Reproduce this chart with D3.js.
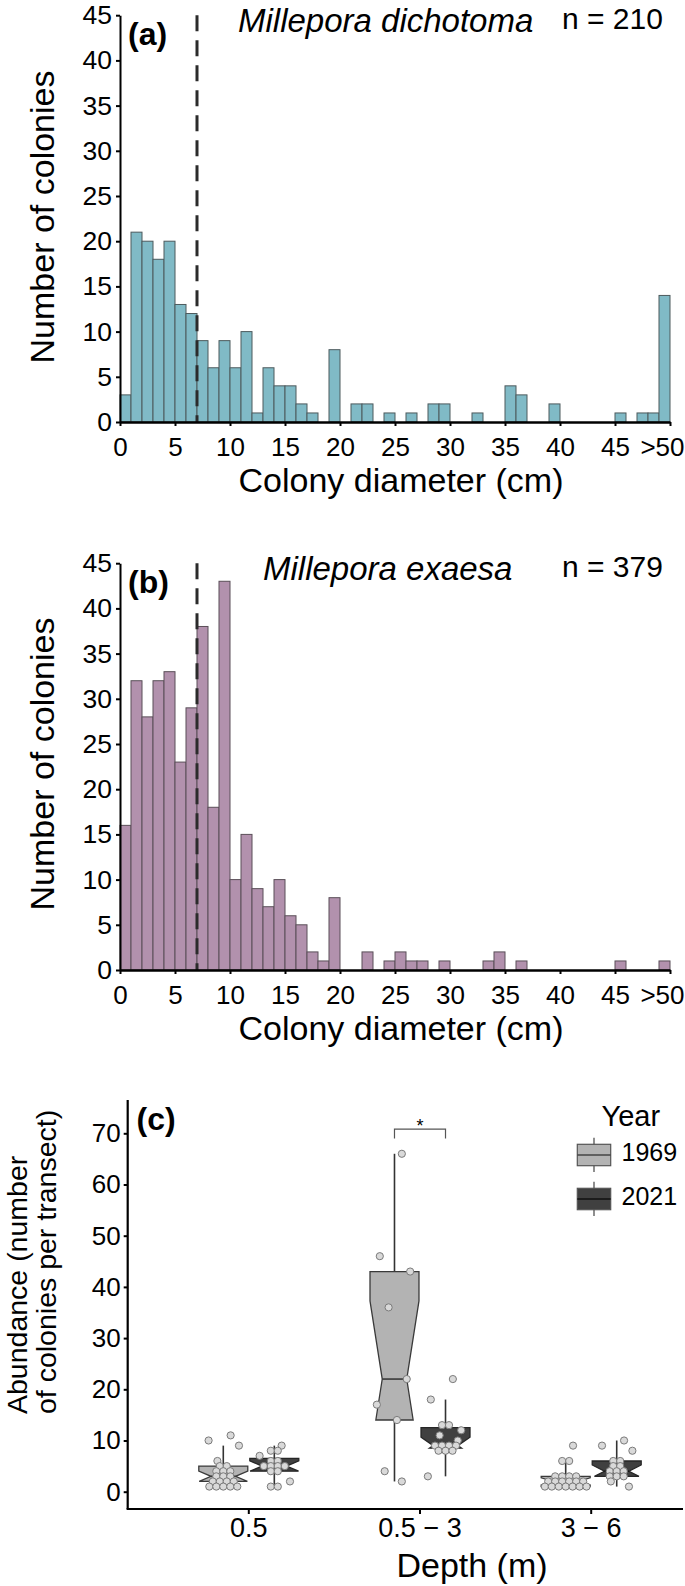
<!DOCTYPE html>
<html><head><meta charset="utf-8">
<script src="https://cdn.jsdelivr.net/npm/d3@7"></script>
<style>
body{margin:0;background:#fff}
svg{display:block}
text{font-family:"Liberation Sans",Arial,Helvetica,sans-serif;fill:#000}
</style>
</head><body>
<svg id="chart" width="685" height="1586"></svg>
<script>
// ---------------- DATA ----------------
const diameterTicks = [0, 5, 10, 15, 20, 25, 30, 35, 40, 45, 50];
const diameterTickLabels = ["0", "5", "10", "15", "20", "25", "30", "35", "40", "45", ">50"];
const countTicks = [0, 5, 10, 15, 20, 25, 30, 35, 40, 45];
// colonies per 1-cm diameter class (last class = >50 cm)
const countsDichotoma = [3,21,20,18,20,13,12,9,6,9, 6,10,1,6,4,4,2,1,0,8,
                         0,2,2,0,1,0,1,0,2,2, 0,0,1,0,0,4,3,0,0,2,
                         0,0,0,0,0,1,0,1,1,14];
const countsExaesa    = [16,32,28,32,33,23,29,38,18,43, 10,15,9,7,10,6,5,2,1,8,
                         0,0,2,0,1,2,1,1,0,1, 0,0,0,1,2,0,1,0,0,0,
                         0,0,0,0,0,1,0,0,0,1];
const thresholdDiameter = 7;
const nDichotoma = 210;
const nExaesa = 379;

const depthCats = ["0.5", "0.5 − 3", "3 − 6"];
const years = ["1969", "2021"];
const abundanceTicks = [0, 10, 20, 30, 40, 50, 60, 70];
const abund_05_1969   = [11,10,9,6,5,5,4,4,4,3,3,3,2,2,2,2,1,1,1,1,1];
const abund_05_2021   = [9,8,8,7,6,6,5,5,5,5,4,4,2,1,1];
const abund_053_1969  = [66,46,43,36,22,17,14,4,2];
const abund_053_2021  = [22,18,13,13,12,11,10,9,9,9,9,8,8,8,3];
const abund_36_1969   = [9,6,6,3,3,3,3,2,2,2,2,2,2,1,1,1,1,1,1,1];
const abund_36_2021   = [10,9,8,6,6,5,5,4,4,4,3,3,3,2,1];
const significance = [{depth: "0.5 − 3", label: "*"}];

// ---------------- DRAWING ----------------
const svg = d3.select("#chart");
svg.append("rect").attr("width", 685).attr("height", 1586).attr("fill", "#fff");
const FONT = '"Liberation Sans",Arial,Helvetica,sans-serif';

function drawHist(cfg) {
  const g = svg.append("g");
  const x = d3.scaleLinear().domain([0, 50]).range([120, 670]);
  const y = d3.scaleLinear().domain([0, 45]).range([cfg.y0, cfg.y0 - 406.8]);
  const bins = cfg.counts.map((c, i) => ({i, c})).filter(d => d.c > 0);
  g.selectAll("rect.bar").data(bins).join("rect")
    .attr("class", "bar")
    .attr("x", d => x(d.i)).attr("width", d => x(d.i + 1) - x(d.i))
    .attr("y", d => y(d.c)).attr("height", d => y(0) - y(d.c))
    .attr("fill", cfg.fill).attr("stroke", cfg.stroke).attr("stroke-width", 1);

  // threshold dashed line
  g.append("line")
    .attr("x1", x(thresholdDiameter)).attr("x2", x(thresholdDiameter))
    .attr("y1", y(45)).attr("y2", y(0))
    .attr("stroke", "#2b2b2b").attr("stroke-width", 3).attr("stroke-dasharray", "16,9");

  // y axis
  const ya = g.append("g").attr("transform", "translate(120,0)")
    .call(d3.axisLeft(y).tickValues(countTicks).tickSize(4).tickPadding(4).tickSizeOuter(0));
  ya.select(".domain").attr("stroke-width", 2).attr("stroke", "#000");
  ya.selectAll(".tick line").attr("stroke-width", 2);
  ya.selectAll("text").attr("font-size", 26.5).attr("font-family", FONT).attr("fill", "#000");

  // x axis
  const xa = g.append("g").attr("transform", `translate(0,${y(0)})`)
    .call(d3.axisBottom(x).tickValues(diameterTicks)
      .tickFormat((d, i) => diameterTickLabels[i]).tickSize(4).tickSizeOuter(0));
  xa.select(".domain").attr("stroke-width", 2.5).attr("stroke", "#000");
  xa.selectAll(".tick line").attr("stroke-width", 2);
  xa.selectAll("text").attr("font-size", 26).attr("font-family", FONT).attr("fill", "#000")
    .attr("y", 34).attr("dy", null)
    .each(function(d) {
      if (d === 50) d3.select(this).attr("text-anchor", "end").attr("x", 684 - x(50));
    });

  // titles
  g.append("text").attr("x", 401).attr("y", y(0) + 70).attr("text-anchor", "middle")
    .attr("font-size", 34).text("Colony diameter (cm)");
  g.append("text").attr("transform", `translate(54,${cfg.yCenter}) rotate(-90)`)
    .attr("text-anchor", "middle").attr("font-size", 34).text("Number of colonies");
  g.append("text").attr("x", 128).attr("y", cfg.panelY).attr("font-size", 32)
    .attr("font-weight", "bold").text(cfg.panel);
  g.append("text").attr("x", cfg.spX).attr("y", cfg.spY).attr("font-size", 33)
    .attr("font-style", "italic").text(cfg.species);
  g.append("text").attr("x", 562).attr("y", cfg.nY).attr("font-size", 30)
    .text("n = " + cfg.n);
}

drawHist({counts: countsDichotoma, y0: 422, fill: "#80bac6", stroke: "#4d5a5d",
  panel: "(a)", panelY: 45, species: "Millepora dichotoma", spX: 238, spY: 32,
  n: nDichotoma, nY: 29, yCenter: 217});
drawHist({counts: countsExaesa, y0: 970, fill: "#b291ad", stroke: "#5a4f58",
  panel: "(b)", panelY: 593, species: "Millepora exaesa", spX: 263, spY: 580,
  n: nExaesa, nY: 577, yCenter: 764});

// ---------------- PANEL C ----------------
const gc = svg.append("g");
const xC = d3.scalePoint().domain(depthCats).range([248.3, 590.7]);
const xYear = d3.scaleBand().domain(years).range([-49.5, 50.5]).paddingInner(0.04);
const yC = d3.scaleLinear().domain([0, 70]).range([1491.7, 1133.3]);
const boxW = xYear.bandwidth();
const yearFill = {"1969": "#b3b3b3", "2021": "#404040"};
const yearStroke = {"1969": "#3a3a3a", "2021": "#262626"};
const yearMedian = {"1969": "#3a3a3a", "2021": "#111"};

const groups = [
  {depth: depthCats[0], year: years[0], vals: abund_05_1969},
  {depth: depthCats[0], year: years[1], vals: abund_05_2021},
  {depth: depthCats[1], year: years[0], vals: abund_053_1969},
  {depth: depthCats[1], year: years[1], vals: abund_053_2021},
  {depth: depthCats[2], year: years[0], vals: abund_36_1969},
  {depth: depthCats[2], year: years[1], vals: abund_36_2021},
];

function stats(vals) {
  const s = vals.slice().sort(d3.ascending);
  const q1 = d3.quantileSorted(s, 0.25), med = d3.quantileSorted(s, 0.5), q3 = d3.quantileSorted(s, 0.75);
  const iqr = q3 - q1;
  const lo = d3.min(s.filter(v => v >= q1 - 1.5 * iqr));
  const hi = d3.max(s.filter(v => v <= q3 + 1.5 * iqr));
  const nd = 1.58 * iqr / Math.sqrt(s.length);
  return {q1, med, q3, lo, hi, nLo: med - nd, nHi: med + nd};
}

function boxPoly(cx, w, st) {
  const x0 = cx - w / 2, ins = w / 4;
  const L = [];
  if (st.nHi <= st.q3) { L.push([x0, yC(st.q3)], [x0, yC(st.nHi)]); }
  else { L.push([x0 + ins * (st.nHi - st.q3) / (st.nHi - st.med), yC(st.q3)]); }
  L.push([x0 + ins, yC(st.med)]);
  if (st.nLo >= st.q1) { L.push([x0, yC(st.nLo)], [x0, yC(st.q1)]); }
  else { L.push([x0 + ins * (st.q1 - st.nLo) / (st.med - st.nLo), yC(st.q1)]); }
  const R = L.map(([px, py]) => [2 * cx - px, py]).reverse();
  return L.concat(R);
}

function jitter(vals, w) {
  const pattern = [0.15, -0.3, 0.32, -0.12, 0.25, -0.36, 0.05, -0.2];
  const out = new Array(vals.length);
  let single = 0;
  const grp = d3.group(vals.map((v, i) => ({v, i})), d => d.v);
  for (const [, arr] of grp) {
    const k = arr.length;
    if (k === 1) { out[arr[0].i] = pattern[single++ % pattern.length] * w; }
    else {
      const span = Math.min(0.85 * w, (k - 1) * 7);
      arr.forEach((d, j) => out[d.i] = -span / 2 + span * j / (k - 1));
    }
  }
  return out;
}

groups.forEach(gr => {
  const cx = xC(gr.depth) + xYear(gr.year) + boxW / 2;
  const st = stats(gr.vals);
  gc.append("line").attr("x1", cx).attr("x2", cx).attr("y1", yC(st.q3)).attr("y2", yC(st.hi))
    .attr("stroke", "#333").attr("stroke-width", 1.6);
  gc.append("line").attr("x1", cx).attr("x2", cx).attr("y1", yC(st.q1)).attr("y2", yC(st.lo))
    .attr("stroke", "#333").attr("stroke-width", 1.6);
  gc.append("path").attr("d", d3.line()(boxPoly(cx, boxW, st)) + "Z")
    .attr("fill", yearFill[gr.year]).attr("stroke", yearStroke[gr.year]).attr("stroke-width", 1.3);
  gc.append("line").attr("x1", cx - boxW / 4).attr("x2", cx + boxW / 4)
    .attr("y1", yC(st.med)).attr("y2", yC(st.med))
    .attr("stroke", yearMedian[gr.year]).attr("stroke-width", 1.6);
  gr.cx = cx; gr.st = st;
});
groups.forEach(gr => {
  const offs = jitter(gr.vals, boxW);
  gc.selectAll(null).data(gr.vals).join("circle")
    .attr("cx", (d, i) => gr.cx + offs[i]).attr("cy", d => yC(d)).attr("r", 3.6)
    .attr("fill", "#d9d9d9").attr("stroke", "#7a7a7a").attr("stroke-width", 1);
});

// significance bracket
significance.forEach(s => {
  const xl = xC(s.depth) + xYear(years[0]) + boxW / 2;
  const xr = xC(s.depth) + xYear(years[1]) + boxW / 2;
  gc.append("path")
    .attr("d", `M${xl},${yC(69)}V${yC(70.8)}H${xr}V${yC(69)}`)
    .attr("fill", "none").attr("stroke", "#555").attr("stroke-width", 1.2);
  gc.append("text").attr("x", (xl + xr) / 2).attr("y", yC(70.8) + 3).attr("text-anchor", "middle")
    .attr("font-size", 18).attr("fill", "#333").text(s.label);
});

// axes
gc.append("line").attr("x1", 127.7).attr("x2", 127.7).attr("y1", 1100).attr("y2", 1509)
  .attr("stroke", "#000").attr("stroke-width", 2.2);
gc.append("line").attr("x1", 126.6).attr("x2", 683).attr("y1", 1509).attr("y2", 1509)
  .attr("stroke", "#000").attr("stroke-width", 2.2);
const yaC = gc.append("g").attr("transform", "translate(127.7,0)")
  .call(d3.axisLeft(yC).tickValues(abundanceTicks).tickSize(4).tickPadding(3).tickSizeOuter(0));
yaC.select(".domain").remove();
yaC.selectAll(".tick line").attr("stroke-width", 2);
yaC.selectAll("text").attr("font-size", 26).attr("font-family", FONT).attr("fill", "#000");
const xaC = gc.append("g").attr("transform", "translate(0,1509)")
  .call(d3.axisBottom(xC).tickSize(5).tickSizeOuter(0));
xaC.select(".domain").remove();
xaC.selectAll(".tick line").attr("stroke-width", 2);
xaC.selectAll("text").attr("font-size", 27).attr("font-family", FONT).attr("fill", "#000")
  .attr("y", 28).attr("dy", null);

gc.append("text").attr("x", 472).attr("y", 1577).attr("text-anchor", "middle")
  .attr("font-size", 34).text("Depth (m)");
gc.append("text").attr("transform", "translate(27,1414) rotate(-90)")
  .attr("font-size", 28.5).text("Abundance (number");
gc.append("text").attr("transform", "translate(56,1414) rotate(-90)")
  .attr("font-size", 28.5).text("of colonies per transect)");
gc.append("text").attr("x", 136.5).attr("y", 1130).attr("font-size", 32)
  .attr("font-weight", "bold").text("(c)");

// legend
const lg = gc.append("g");
lg.append("text").attr("x", 601.5).attr("y", 1126).attr("font-size", 29).text("Year");
years.forEach((yr, i) => {
  const top = 1144.3 + i * 44;
  const kx = 577.3, kw = 33.4, kh = 21.4;
  lg.append("line").attr("x1", kx + kw / 2).attr("x2", kx + kw / 2)
    .attr("y1", top - 6.6).attr("y2", top + kh + 6.3).attr("stroke", "#444").attr("stroke-width", 1.2);
  lg.append("rect").attr("x", kx).attr("y", top).attr("width", kw).attr("height", kh)
    .attr("fill", yearFill[yr]).attr("stroke", "#555").attr("stroke-width", 1.2);
  lg.append("line").attr("x1", kx).attr("x2", kx + kw).attr("y1", top + kh / 2).attr("y2", top + kh / 2)
    .attr("stroke", yr === "1969" ? "#444" : "#111").attr("stroke-width", 1.5);
  lg.append("text").attr("x", 621.5).attr("y", top + 16.5).attr("font-size", 25).text(yr);
});
</script>
</body></html>
